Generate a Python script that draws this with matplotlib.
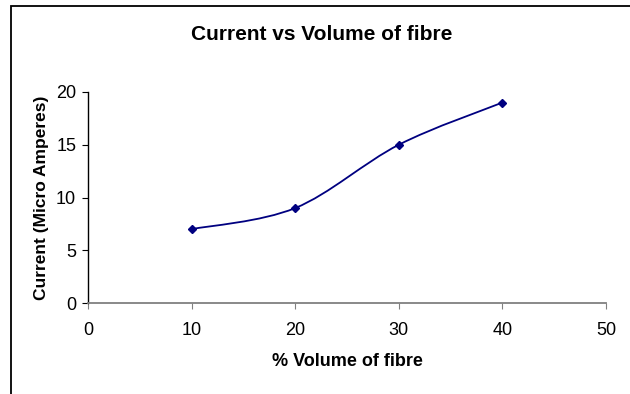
import numpy as np
import matplotlib
matplotlib.use('Agg')
import matplotlib.pyplot as plt
from matplotlib.path import Path
from matplotlib.patches import PathPatch, Rectangle

# data
volume = [10, 20, 30, 40]
current = [7, 9, 15, 19]
x_ticks = [0, 10, 20, 30, 40, 50]
y_ticks = [0, 5, 10, 15, 20]

NAVY = '#000080'
FONT = 'Liberation Sans'


def smooth_path(xs, ys, t=1/6):
    # Excel-style smoothed line: cubic bezier through each point
    pts = np.column_stack([xs, ys]).astype(float)
    verts = [pts[0]]
    codes = [Path.MOVETO]
    n = len(pts)
    for i in range(n - 1):
        p0 = pts[i - 1] if i > 0 else pts[i]
        p1 = pts[i]
        p2 = pts[i + 1]
        p3 = pts[i + 2] if i + 2 < n else pts[i + 1]
        c1 = p1 + (p2 - p0) * t
        c2 = p2 - (p3 - p1) * t
        verts += [c1, c2, p2]
        codes += [Path.CURVE4] * 3
    return Path(verts, codes)


fig = plt.figure(figsize=(6.3, 3.94), dpi=100, facecolor='white')

# outer chart frame (cropped at right/bottom in the reference)
fig.patches.append(Rectangle((11 / 630, -0.1), 1.2, 1 - 6 / 394 + 0.1,
                             transform=fig.transFigure, fill=False,
                             edgecolor='black', lw=1.3))

ax = fig.add_axes([88 / 630, 1 - 303 / 394, (606 - 88) / 630, (303 - 92) / 394])

ax.add_patch(PathPatch(smooth_path(volume, current), fill=False,
                       edgecolor=NAVY, lw=1.3))
ax.plot(volume, current, ls='none', marker='D', ms=4.5, color=NAVY)

ax.set_xlim(0, 50)
ax.set_ylim(0, 20)
ax.set_xticks(x_ticks)
ax.set_yticks(y_ticks)
for lab in ax.get_xticklabels() + ax.get_yticklabels():
    lab.set_fontfamily(FONT)
    lab.set_fontsize(13)

ax.spines[['top', 'right']].set_visible(False)
ax.spines['left'].set_color('black')
ax.spines['bottom'].set_color('#808080')
ax.spines['left'].set_linewidth(1.0)
ax.spines['bottom'].set_linewidth(1.3)
ax.tick_params(axis='y', direction='out', length=4.5, width=0.8, pad=4)
ax.tick_params(axis='x', direction='out', length=4, width=0.8, color='#808080', pad=10)

ax.set_xlabel('% Volume of fibre', fontfamily=FONT, fontweight='bold',
              fontsize=13, labelpad=10)
ax.set_ylabel('Current (Micro Amperes)', fontfamily=FONT, fontweight='bold',
              fontsize=12.5, labelpad=5)

fig.text(322 / 630, 1 - 34 / 394, 'Current vs Volume of fibre', fontfamily=FONT,
         fontweight='bold', fontsize=15, ha='center', va='center')

fig.savefig('out.png', dpi=100, facecolor='white')
